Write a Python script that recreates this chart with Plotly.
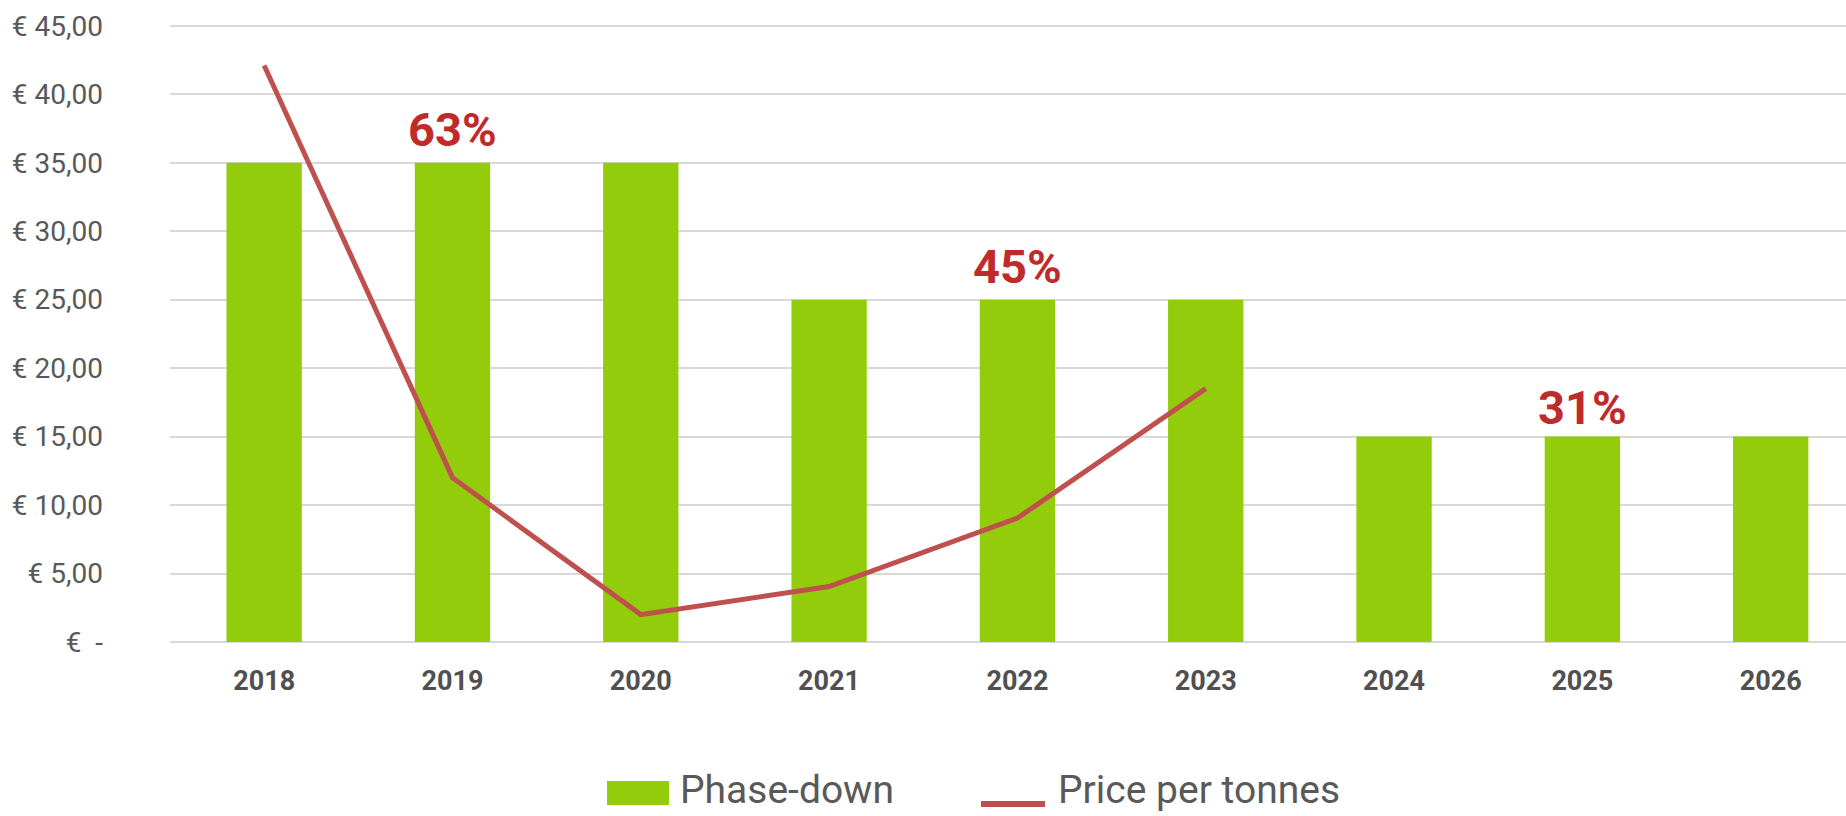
import plotly.graph_objects as go

years = ["2018", "2019", "2020", "2021", "2022", "2023", "2024", "2025", "2026"]
phase_down = [35, 35, 35, 25, 25, 25, 15, 15, 15]
price_years = ["2018", "2019", "2020", "2021", "2022", "2023"]
price = [42.1, 12.0, 2.0, 4.05, 9.05, 18.5]
label_years = ["2019", "2022", "2025"]
label_texts = ["63%", "45%", "31%"]
label_y = [37.4, 27.4, 17.1]
ytick_vals = [0, 5, 10, 15, 20, 25, 30, 35, 40, 45]
ytick_text = ["€  -", "€ 5,00", "€ 10,00", "€ 15,00", "€ 20,00", "€ 25,00",
              "€ 30,00", "€ 35,00", "€ 40,00", "€ 45,00"]
legend_names = ["Phase-down", "Price per tonnes"]

GREEN = "#92CC0A"
LINE_RED = "#C0504D"
LABEL_RED = "#BF2A2A"

fig = go.Figure()
fig.add_trace(go.Bar(x=years, y=phase_down, name=legend_names[0],
                     marker=dict(color=GREEN, line=dict(width=0)),
                     width=0.4, showlegend=False))
fig.add_trace(go.Scatter(x=price_years, y=price, name=legend_names[1],
                         mode="lines", line=dict(color=LINE_RED, width=5),
                         showlegend=False))

for x, t, y in zip(label_years, label_texts, label_y):
    fig.add_annotation(x=years.index(x), y=y, text=t, showarrow=False,
                       xref="x", yref="y",
                       font=dict(family="Roboto", size=47, color=LABEL_RED, weight="bold"),
                       xanchor="center", yanchor="middle")

# plot area: bottom at 642 px, top at 23 px (height 619)
H = 619.0
W = 1676.0
def px_x(p):
    return (p - 170) / W
def px_y(p):
    return (642 - p) / H

# custom legend (wide swatches like the original)
fig.add_shape(type="rect", xref="paper", yref="paper",
              x0=px_x(607), x1=px_x(669), y0=px_y(805), y1=px_y(781),
              fillcolor=GREEN, line=dict(width=0))
fig.add_annotation(xref="paper", yref="paper", x=px_x(678), y=px_y(790),
                   text=legend_names[0], showarrow=False, xanchor="left", yanchor="middle",
                   font=dict(family="Roboto", size=39, color="#595959"))
fig.add_shape(type="line", xref="paper", yref="paper",
              x0=px_x(981), x1=px_x(1045), y0=px_y(804), y1=px_y(804),
              line=dict(color=LINE_RED, width=6))
fig.add_annotation(xref="paper", yref="paper", x=px_x(1056), y=px_y(790),
                   text=legend_names[1], showarrow=False, xanchor="left", yanchor="middle",
                   font=dict(family="Roboto", size=39, color="#595959"))

fig.update_layout(
    width=1846, height=816,
    margin=dict(l=170, r=0, t=23, b=174),
    paper_bgcolor="white", plot_bgcolor="white",
    showlegend=False,
    font=dict(family="Roboto"),
)
fig.update_xaxes(type="category", range=[-0.5, 8.4], showgrid=False, showline=False,
                 ticks="", automargin=False,
                 tickfont=dict(family="Roboto", size=27, color="#505050", weight="bold"),
                 ticklabelstandoff=20)
fig.update_yaxes(range=[0, 45.2], tickvals=ytick_vals, ticktext=ytick_text,
                 showgrid=True, gridcolor="#D9D9D9", gridwidth=1.5,
                 zeroline=True, zerolinecolor="#D9D9D9", zerolinewidth=1.5,
                 showline=False, ticks="", automargin=False,
                 tickfont=dict(family="Roboto", size=28, color="#595959"),
                 ticklabelstandoff=66)

fig.write_html("out.html",
               config={"displayModeBar": False},
               post_script="document.body.style.margin='0';document.body.style.overflow='hidden';")
